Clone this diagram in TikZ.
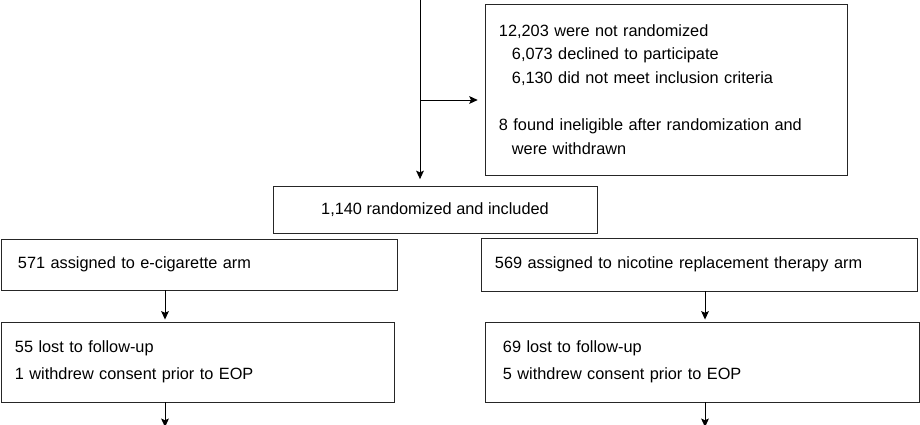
\documentclass[tikz,border=0pt]{standalone}
\usepackage{fontspec}
\setmainfont{Liberation Sans}
\usetikzlibrary{arrows.meta}

\begin{document}
\begin{tikzpicture}[x=0.025cm, y=-0.025cm,
    every node/.style={font=\fontsize{11.6}{16.8}\selectfont},
    box/.style={draw=black!85, line width=0.65pt, inner ysep=0pt},
    leftbox/.style={box, align=left},
    arr/.style={line width=0.65pt, -{Stealth[length=6pt, width=5.5pt, inset=1.2pt]}}]
                \useasboundingbox (0,0) rectangle (920,425);
                \def\ind{\hspace*{0.325cm}}
                \node[leftbox, text width=8.35cm, inner xsep=0.35cm, minimum height=4.275cm] (excl) at (666, 89.5)
                    {12,203 were not randomized\\ \ind 6,073 declined to participate\\ \ind 6,130 did not meet inclusion criteria\\[16.8pt]
                     8 found ineligible after randomization and\\ \ind were withdrawn};
                \node[box, minimum width=8.1cm, minimum height=1.175cm] (rand) at (435, 209.5) {1,140 randomized and included};
                \node[leftbox, text width=9.075cm, inner xsep=0.4cm, minimum height=1.275cm] (armE) at (199.5, 264.5) {571 assigned to e-cigarette arm};
                \node[leftbox, text width=10.225cm, inner xsep=0.325cm, minimum height=1.325cm] (armN) at (699.5, 264.5) {569 assigned to nicotine replacement therapy arm};
                \node[leftbox, text width=9.15cm, inner xsep=0.325cm, minimum height=2cm] (lostE) at (198, 362) {55 lost to follow-up\\[2pt] 1 withdrew consent prior to EOP};
                \node[leftbox, text width=9.975cm, inner xsep=0.425cm, minimum height=2cm] (lostN) at (702.5, 362) {69 lost to follow-up\\[2pt] 5 withdrew consent prior to EOP};

                \coordinate (top) at (420, 0);
                \coordinate (split) at (420, 100);
                \coordinate (e) at (165, 0);
                \coordinate (n) at (705, 0);
                \draw[arr, shorten >=0.16cm] (top) -- (top |- rand.north);
                \draw[arr, shorten >=0.17cm] (split) -- (split -| excl.west);
                \draw[arr, shorten >=0.05cm] (armE.south -| e) -- (lostE.north -| e);
                \draw[arr, shorten >=0.05cm] (armN.south -| n) -- (lostN.north -| n);
                \draw[arr] (lostE.south -| e) -- (e |- 0,427);
                \draw[arr] (lostN.south -| n) -- (n |- 0,427);
            \end{tikzpicture}
\end{document}
